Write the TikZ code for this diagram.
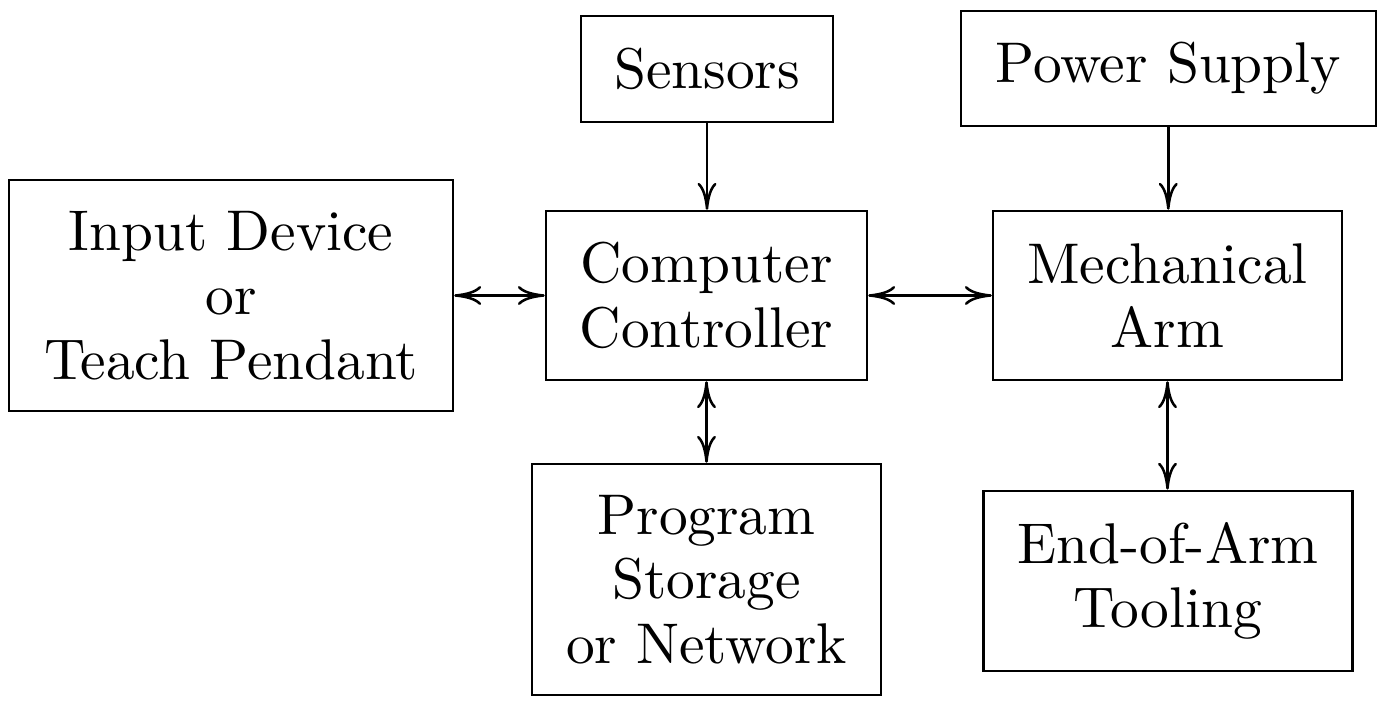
\documentclass[tikz,border=0pt]{standalone}
\usetikzlibrary{arrows.meta}
\begin{document}
\begin{tikzpicture}[x=0.178571pt, y=-0.178571pt,
  >={To[length=4.8pt, width=3.4pt]},
  box/.style={draw, line width=0.45pt, align=center, inner sep=0pt,
    font=\fontsize{10.25}{11.5}\selectfont},
  link/.style={line width=0.45pt}]
\useasboundingbox (0,0) rectangle (1386,702);
\node[box, minimum width=45.0pt, minimum height=18.93pt] (sens) at (707,69) {Sensors};
\node[box, minimum width=74.11pt, minimum height=20.54pt] (pow) at (1168.3,68.5) {Power Supply};
\node[box, minimum width=79.29pt, minimum height=41.25pt] (inp) at (231,295.5) {Input Device\\or\\Teach Pendant};
\node[box, minimum width=57.32pt, minimum height=30.18pt] (comp) at (706.5,295.5) {Computer\\Controller};
\node[box, minimum width=62.32pt, minimum height=30.18pt] (mech) at (1167.5,295.5) {Mechanical\\Arm};
\node[box, minimum width=62.32pt, minimum height=41.25pt] (prog) at (706.5,579.5) {Program\\Storage\\or Network};
\node[box, minimum width=65.96pt, minimum height=32.2pt] (end) at (1168,581) {End-of-Arm\\Tooling};
\draw[link, ->] (sens.south) -- (sens.south |- comp.north);
\draw[link, ->] (pow.south) -- (pow.south |- mech.north);
\draw[link, <->] (inp.east) -- (comp.west);
\draw[link, <->] (comp.east) -- (mech.west);
\draw[link, <->] (comp.south) -- (prog.north);
\draw[link, <->] (mech.south) -- (mech.south |- end.north);
\end{tikzpicture}
\end{document}
